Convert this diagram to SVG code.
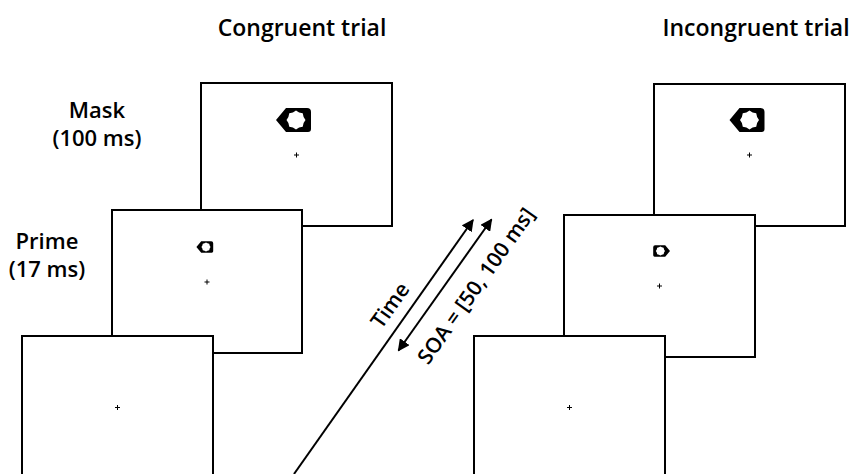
<svg xmlns="http://www.w3.org/2000/svg" width="865" height="474" viewBox="0 0 865 474">
<style>
.scr{fill:#fff;stroke:#000;stroke-width:2}
.fix{stroke:#000;stroke-width:1;fill:none}
.lbl{font-family:"Open Sans","Liberation Sans",sans-serif;font-size:22px;font-weight:600;fill:#000;text-anchor:middle}
.rot{font-family:"Open Sans","Liberation Sans",sans-serif;font-size:21px;font-weight:600;fill:#000;text-anchor:middle}
.ttl{font-family:"Open Sans","Liberation Sans",sans-serif;font-size:23px;font-weight:600;fill:#000;text-anchor:middle}
.arr{stroke:#000;stroke-width:2;fill:none}
</style>
<defs>
<path id="shape" fill-rule="evenodd" fill="#000" d="M-20,0 L-10,-12 L11,-12 Q15,-12 15,-8 L15,9 Q15,12 12,12 L-10,12 Z M9.5,0 L7.6,3.1 L6.72,6.72 L3.1,7.6 L0,9.5 L-3.1,7.6 L-6.72,6.72 L-7.6,3.1 L-9.5,0 L-7.6,-3.1 L-6.72,-6.72 L-3.1,-7.6 L0,-9.5 L3.1,-7.6 L6.72,-6.72 L7.6,-3.1 Z"/>
<path id="cross" class="fix" d="M-2.5,0 H2.5 M0,-2.5 V2.5"/>
<marker id="ah" viewBox="0 0 10 10" refX="9" refY="5" markerWidth="6" markerHeight="6" orient="auto-start-reverse" markerUnits="strokeWidth">
<path d="M0,0 L10,5 L0,10 Z" fill="#000"/>
</marker>
</defs>
<g id="titles">
<text class="ttl" x="302" y="36">Congruent trial</text>
<text class="ttl" x="756" y="36">Incongruent trial</text>
</g>
<g id="labels">
<text class="lbl" x="97" y="118">Mask</text>
<text class="lbl" x="97" y="146">(100 ms)</text>
<text class="lbl" x="47" y="249">Prime</text>
<text class="lbl" x="47" y="277">(17 ms)</text>
</g>
<g id="congruent-mask">
<rect class="scr" x="201" y="83" width="191" height="143"/>
<use href="#shape" transform="translate(296,120)"/>
<use href="#cross" transform="translate(296.5,155)"/>
</g>
<g id="congruent-prime">
<rect class="scr" x="112" y="210" width="190" height="143"/>
<use href="#shape" transform="translate(206,247) scale(0.48)"/>
<use href="#cross" transform="translate(207,282)"/>
</g>
<g id="congruent-fixation">
<rect class="scr" x="22" y="336" width="191" height="145"/>
<use href="#cross" transform="translate(117.5,407.5)"/>
</g>
<g id="incongruent-mask">
<rect class="scr" x="654" y="84" width="191" height="142"/>
<use href="#shape" transform="translate(749.5,120)"/>
<use href="#cross" transform="translate(749.5,155)"/>
</g>
<g id="incongruent-prime">
<rect class="scr" x="564" y="215" width="191" height="142"/>
<use href="#shape" transform="translate(660.4,251) scale(-0.48,0.48)"/>
<use href="#cross" transform="translate(659.5,286)"/>
</g>
<g id="incongruent-fixation">
<rect class="scr" x="474" y="336" width="191" height="145"/>
<use href="#cross" transform="translate(569.5,407.5)"/>
</g>
<g id="connectors">
<line class="arr" x1="294" y1="474" x2="473" y2="220" marker-end="url(#ah)"/>
<line class="arr" x1="398.5" y1="350.5" x2="491.5" y2="219.5" marker-start="url(#ah)" marker-end="url(#ah)"/>
<text class="rot" transform="translate(396,309.5) rotate(-54.7)">Time</text>
<text class="rot" transform="translate(482,290) rotate(-54.7)">SOA = [50, 100 ms]</text>
</g>
</svg>
